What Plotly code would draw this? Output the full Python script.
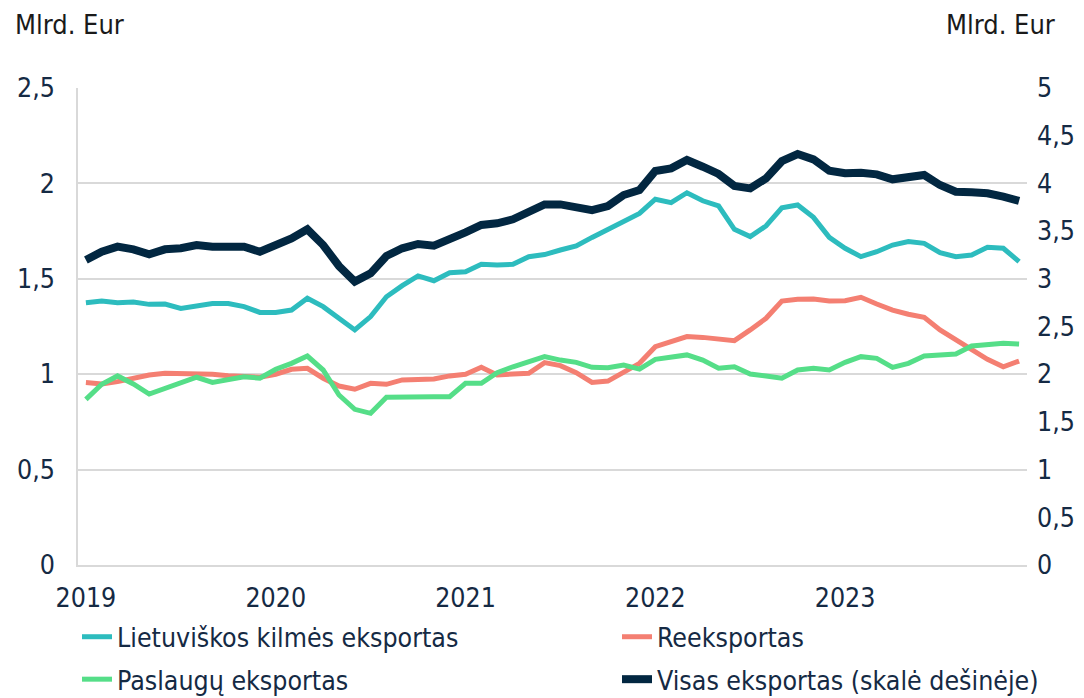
import plotly.graph_objects as go

years = ["2019", "2020", "2021", "2022", "2023"]
months = list(range(60))

lt_origin = [1.375, 1.384, 1.375, 1.378, 1.366, 1.368, 1.345, 1.359, 1.371, 1.370, 1.354, 1.324,
             1.324, 1.336, 1.398, 1.354, 1.293, 1.232, 1.302, 1.406, 1.464, 1.515, 1.490, 1.532,
             1.537, 1.576, 1.572, 1.576, 1.616, 1.627, 1.651, 1.672, 1.717, 1.759, 1.805, 1.843,
             1.917, 1.899, 1.951, 1.909, 1.882, 1.759, 1.721, 1.777, 1.872, 1.887, 1.822, 1.717,
             1.660, 1.616, 1.642, 1.677, 1.695, 1.686, 1.637, 1.616, 1.625, 1.665, 1.660, 1.590]

reexport = [0.956, 0.949, 0.961, 0.979, 0.996, 1.005, 1.005, 1.001, 1.000, 0.992, 0.987, 0.984,
            1.000, 1.026, 1.031, 0.979, 0.938, 0.921, 0.952, 0.947, 0.970, 0.970, 0.975, 0.991,
            1.000, 1.036, 0.996, 1.001, 1.005, 1.061, 1.045, 1.008, 0.957, 0.964, 1.013, 1.057,
            1.144, 1.170, 1.197, 1.193, 1.186, 1.176, 1.232, 1.293, 1.383, 1.393, 1.394, 1.384,
            1.385, 1.403, 1.368, 1.336, 1.314, 1.298, 1.232, 1.179, 1.127, 1.078, 1.039, 1.069]

services = [0.868, 0.947, 0.991, 0.949, 0.896, 0.926, 0.956, 0.984, 0.957, 0.970, 0.987, 0.979,
            1.026, 1.057, 1.095, 1.022, 0.891, 0.816, 0.795, 0.879, 0.882, 0.879, 0.882, 0.882,
            0.952, 0.952, 1.008, 1.039, 1.066, 1.092, 1.074, 1.062, 1.036, 1.034, 1.048, 1.027,
            1.078, 1.092, 1.101, 1.074, 1.031, 1.039, 1.001, 0.991, 0.979, 1.022, 1.031, 1.022,
            1.062, 1.092, 1.083, 1.036, 1.057, 1.095, 1.101, 1.106, 1.148, 1.153, 1.162, 1.158]

total = [3.197, 3.284, 3.337, 3.309, 3.257, 3.309, 3.320, 3.354, 3.337, 3.337, 3.337, 3.284,
         3.354, 3.424, 3.519, 3.354, 3.134, 2.970, 3.057, 3.239, 3.320, 3.365, 3.347, 3.407,
         3.487, 3.564, 3.582, 3.624, 3.693, 3.780, 3.780, 3.756, 3.720, 3.763, 3.878, 3.930,
         4.130, 4.158, 4.245, 4.175, 4.099, 3.973, 3.948, 4.053, 4.233, 4.308, 4.252, 4.133,
         4.106, 4.112, 4.095, 4.043, 4.064, 4.088, 3.983, 3.913, 3.906, 3.896, 3.861, 3.816]

left_ticks = [0, 0.5, 1, 1.5, 2, 2.5]
left_labels = ["0", "0,5", "1", "1,5", "2", "2,5"]
right_ticks = [0, 0.5, 1, 1.5, 2, 2.5, 3, 3.5, 4, 4.5, 5]
right_labels = ["0", "0,5", "1", "1,5", "2", "2,5", "3", "3,5", "4", "4,5", "5"]

names = ["Lietuviškos kilmės eksportas", "Reeksportas", "Paslaugų eksportas",
         "Visas eksportas (skalė dešinėje)"]
colors = ["#2DBCBE", "#F47F72", "#55DE88", "#022741"]

FONT = "DejaVu Sans Condensed"
FS = 26.5
TXT = "#152a44"
W, H = 1076, 690  # page adds an 8px body offset

fig = go.Figure()
fig.add_trace(go.Scatter(x=months, y=lt_origin, name=names[0], mode="lines",
                         line=dict(color=colors[0], width=5), legend="legend", legendgroup="a"))
fig.add_trace(go.Scatter(x=months, y=reexport, name=names[1], mode="lines",
                         line=dict(color=colors[1], width=5), legend="legend2", legendgroup="b"))
fig.add_trace(go.Scatter(x=months, y=services, name=names[2], mode="lines",
                         line=dict(color=colors[2], width=5), legend="legend", legendgroup="c"))
fig.add_trace(go.Scatter(x=months, y=total, name=names[3], mode="lines", yaxis="y2",
                         line=dict(color=colors[3], width=8), legend="legend2", legendgroup="d"))

leg_common = dict(orientation="v", yanchor="top", xanchor="left", yref="container",
                  xref="container", y=1 - 605 / H,
                  font=dict(family=FONT, size=26.5, color=TXT), bgcolor="rgba(0,0,0,0)",
                  tracegroupgap=5, traceorder="grouped")

fig.update_layout(
    width=W, height=H,
    margin=dict(l=70, r=57, t=80, b=133, autoexpand=False),
    paper_bgcolor="white", plot_bgcolor="white",
    font=dict(family=FONT, size=FS, color=TXT),
    showlegend=True,
    legend=dict(x=69 / W, **leg_common),
    legend2=dict(x=609 / W, **leg_common),
    xaxis=dict(range=[-0.5, 59.5], tickvals=[0, 12, 24, 36, 48], ticktext=years,
               showgrid=False, zeroline=False, showline=True, linecolor="#d9d9d9", linewidth=1.5,
               ticks="", ticklabelstandoff=8, tickfont=dict(size=FS, color=TXT)),
    yaxis=dict(range=[0, 2.5], tickvals=left_ticks, ticktext=left_labels,
               showgrid=True, gridcolor="#d9d9d9", gridwidth=1.5, zeroline=False,
               showline=True, linecolor="#d9d9d9", linewidth=1.5, ticks="",
               ticklabelstandoff=16, tickfont=dict(size=FS, color=TXT)),
    yaxis2=dict(range=[0, 5], tickvals=right_ticks, ticktext=right_labels, overlaying="y",
                side="right", showgrid=False, zeroline=False, showline=False, ticks="",
                ticklabelstandoff=9, tickfont=dict(size=FS, color=TXT)),
    annotations=[
        dict(text="Mlrd. Eur", xref="paper", yref="paper", x=-0.0674, y=1.1677,
             xanchor="left", yanchor="top", showarrow=False, borderpad=0,
             font=dict(family=FONT, size=27, color="#1a1a1a")),
        dict(text="Mlrd. Eur", xref="paper", yref="paper", x=1.0305, y=1.1677,
             xanchor="right", yanchor="top", showarrow=False, borderpad=0,
             font=dict(family=FONT, size=27, color="#1a1a1a")),
    ],
)

fig.write_html("out.html")
